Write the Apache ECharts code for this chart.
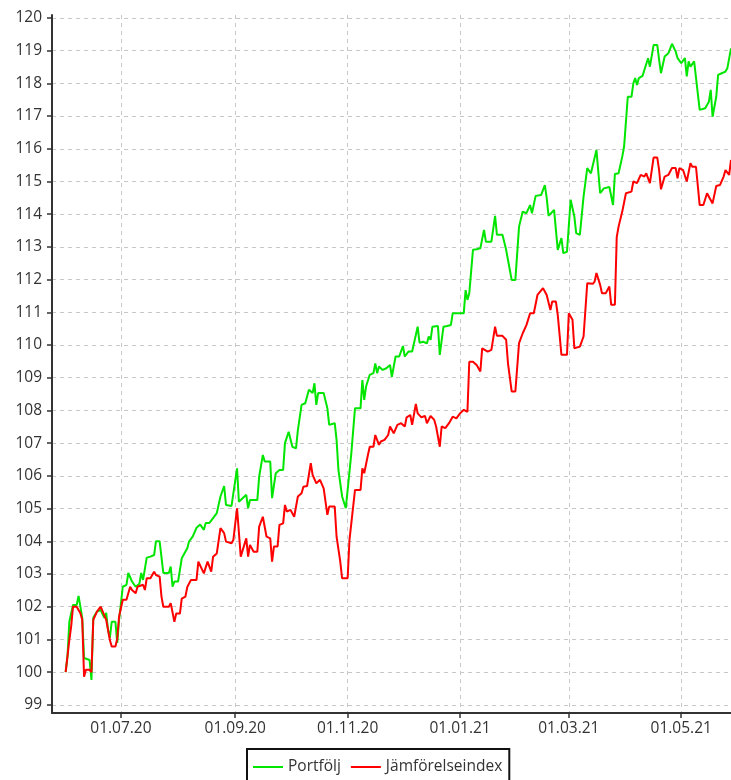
<!DOCTYPE html>
<html><head><meta charset="utf-8">
<script src="https://cdn.jsdelivr.net/npm/echarts@6/dist/echarts.min.js"></script>
<style>html,body{margin:0;padding:0;background:#fff}#c{width:731px;height:780px}</style>
</head><body><div id="c"></div>
<script>
const seriesNames = ['Portfölj', 'Jämförelseindex'];

const portfolioDates = [
'2020-06-01','2020-06-02','2020-06-03','2020-06-04','2020-06-05','2020-06-07','2020-06-08','2020-06-09','2020-06-10','2020-06-11',
'2020-06-12','2020-06-14','2020-06-15','2020-06-16','2020-06-18','2020-06-20','2020-06-21','2020-06-22','2020-06-23','2020-06-24',
'2020-06-25','2020-06-26','2020-06-28','2020-06-29','2020-06-30','2020-07-02','2020-07-04','2020-07-05','2020-07-07','2020-07-09',
'2020-07-11','2020-07-12','2020-07-13','2020-07-15','2020-07-17','2020-07-19','2020-07-20','2020-07-22','2020-07-24','2020-07-27',
'2020-07-28','2020-07-29','2020-07-30','2020-08-01','2020-08-03','2020-08-06','2020-08-07','2020-08-09','2020-08-11','2020-08-13',
'2020-08-15','2020-08-16','2020-08-18','2020-08-20','2020-08-22','2020-08-24','2020-08-26','2020-08-27','2020-08-30','2020-08-31',
'2020-09-02','2020-09-03','2020-09-04','2020-09-07','2020-09-08','2020-09-09','2020-09-13','2020-09-14','2020-09-16','2020-09-17',
'2020-09-20','2020-09-21','2020-09-23','2020-09-25','2020-09-27','2020-09-28','2020-09-30','2020-10-02','2020-10-04','2020-10-05',
'2020-10-07','2020-10-09','2020-10-11','2020-10-13','2020-10-14','2020-10-15','2020-10-16','2020-10-19','2020-10-21','2020-10-22',
'2020-10-23','2020-10-25','2020-10-26','2020-10-27','2020-10-29','2020-10-31','2020-11-01','2020-11-03','2020-11-05','2020-11-08',
'2020-11-09','2020-11-10','2020-11-11','2020-11-13','2020-11-15','2020-11-16','2020-11-17','2020-11-18','2020-11-20','2020-11-22',
'2020-11-24','2020-11-25','2020-11-27','2020-11-29','2020-12-01','2020-12-02','2020-12-04','2020-12-06','2020-12-09','2020-12-10',
'2020-12-12','2020-12-14','2020-12-15','2020-12-16','2020-12-17','2020-12-20','2020-12-21','2020-12-23','2020-12-25','2020-12-27',
'2020-12-28','2020-12-30','2021-01-01','2021-01-03','2021-01-04','2021-01-05','2021-01-06','2021-01-08','2021-01-10','2021-01-12',
'2021-01-14','2021-01-15','2021-01-18','2021-01-20','2021-01-21','2021-01-24','2021-01-26','2021-01-27','2021-01-29','2021-01-31',
'2021-02-02','2021-02-04','2021-02-06','2021-02-08','2021-02-09','2021-02-11','2021-02-14','2021-02-16','2021-02-17','2021-02-18',
'2021-02-21','2021-02-22','2021-02-23','2021-02-25','2021-02-26','2021-02-28','2021-03-02','2021-03-04','2021-03-05','2021-03-07',
'2021-03-09','2021-03-11','2021-03-13','2021-03-14','2021-03-16','2021-03-18','2021-03-20','2021-03-23','2021-03-24','2021-03-25',
'2021-03-26','2021-03-28','2021-03-30','2021-03-31','2021-04-02','2021-04-04','2021-04-05','2021-04-06','2021-04-07','2021-04-08',
'2021-04-10','2021-04-11','2021-04-13','2021-04-14','2021-04-16','2021-04-18','2021-04-19','2021-04-20','2021-04-22','2021-04-24',
'2021-04-26','2021-04-28','2021-04-29','2021-05-01','2021-05-03','2021-05-04','2021-05-05','2021-05-06','2021-05-08','2021-05-09',
'2021-05-11','2021-05-12','2021-05-14','2021-05-16','2021-05-17','2021-05-18','2021-05-20','2021-05-21','2021-05-23','2021-05-25',
'2021-05-26','2021-05-28'
];
const portfolioValues = [
100.0,100.47,101.54,101.54,102.05,102.05,102.33,102.0,101.66,100.43,
100.4,100.37,99.76,101.66,101.85,101.9,101.9,101.66,101.81,101.29,
101.05,101.54,101.54,100.89,101.6,102.61,102.67,103.03,102.77,102.61,
102.7,103.03,102.82,103.5,103.53,103.58,104.0,104.0,103.03,103.03,
103.23,102.61,102.77,102.77,103.48,103.79,104.0,104.15,104.41,104.51,
104.35,104.56,104.56,104.71,104.86,105.37,105.69,105.11,105.08,105.11,
106.23,105.21,105.16,105.42,105.01,105.26,105.26,105.98,106.64,106.44,
106.44,105.32,106.08,106.18,106.18,107.0,107.35,106.89,106.84,107.4,
108.17,108.22,108.63,108.53,108.83,108.17,108.53,108.53,108.07,107.56,
107.61,107.61,107.1,106.18,105.37,105.01,105.01,106.69,108.07,108.07,
108.93,108.32,108.73,109.09,109.14,109.44,109.14,109.34,109.24,109.29,
109.39,109.03,109.65,109.65,109.97,109.65,109.8,109.8,110.56,110.07,
110.1,110.05,110.26,110.16,110.56,110.58,109.7,110.56,110.58,110.61,
110.97,110.97,110.97,110.97,111.68,111.38,111.58,112.91,112.93,112.96,
113.52,113.16,113.16,113.95,113.37,113.37,112.91,112.6,111.99,111.99,
113.62,114.08,114.03,114.28,114.03,114.56,114.59,114.89,114.5,113.95,
114.13,113.52,112.91,113.27,112.81,112.85,114.44,113.93,113.42,113.37,
114.54,115.41,115.25,115.25,115.96,114.64,114.79,114.83,114.89,114.28,
115.23,115.25,115.76,116.07,117.59,117.59,118.0,118.16,117.95,118.16,
118.23,118.21,118.77,118.51,119.17,119.17,118.72,118.31,118.82,118.92,
119.21,118.97,118.77,118.62,118.77,118.21,118.67,118.51,118.67,118.67,
117.19,117.19,117.24,117.44,117.8,116.98,117.59,118.26,118.31,118.36,
118.46,119.07
];

const benchmarkDates = [
'2020-06-01','2020-06-03','2020-06-04','2020-06-05','2020-06-07','2020-06-09','2020-06-10','2020-06-11','2020-06-12','2020-06-14',
'2020-06-15','2020-06-16','2020-06-18','2020-06-20','2020-06-21','2020-06-23','2020-06-25','2020-06-26','2020-06-28','2020-06-29',
'2020-06-30','2020-07-02','2020-07-04','2020-07-06','2020-07-07','2020-07-09','2020-07-10','2020-07-11','2020-07-13','2020-07-14',
'2020-07-15','2020-07-17','2020-07-18','2020-07-19','2020-07-20','2020-07-22','2020-07-23','2020-07-24','2020-07-27','2020-07-28',
'2020-07-30','2020-07-31','2020-08-02','2020-08-03','2020-08-05','2020-08-06','2020-08-08','2020-08-09','2020-08-11','2020-08-12',
'2020-08-15','2020-08-17','2020-08-19','2020-08-20','2020-08-22','2020-08-24','2020-08-26','2020-08-27','2020-08-30','2020-08-31',
'2020-09-02','2020-09-04','2020-09-05','2020-09-07','2020-09-08','2020-09-09','2020-09-11','2020-09-13','2020-09-14','2020-09-16',
'2020-09-18','2020-09-20','2020-09-21','2020-09-22','2020-09-24','2020-09-25','2020-09-27','2020-09-28','2020-09-29','2020-10-01',
'2020-10-03','2020-10-04','2020-10-05','2020-10-07','2020-10-08','2020-10-10','2020-10-12','2020-10-13','2020-10-15','2020-10-17',
'2020-10-19','2020-10-21','2020-10-22','2020-10-25','2020-10-26','2020-10-28','2020-10-29','2020-11-01','2020-11-02','2020-11-05',
'2020-11-08','2020-11-09','2020-11-10','2020-11-12','2020-11-13','2020-11-15','2020-11-16','2020-11-18','2020-11-19','2020-11-21',
'2020-11-23','2020-11-24','2020-11-26','2020-11-28','2020-11-30','2020-12-02','2020-12-03','2020-12-05','2020-12-06','2020-12-08',
'2020-12-09','2020-12-11','2020-12-13','2020-12-14','2020-12-16','2020-12-18','2020-12-19','2020-12-21','2020-12-22','2020-12-24',
'2020-12-26','2020-12-28','2020-12-30','2021-01-01','2021-01-03','2021-01-05','2021-01-06','2021-01-08','2021-01-10','2021-01-12',
'2021-01-13','2021-01-16','2021-01-18','2021-01-20','2021-01-21','2021-01-24','2021-01-26','2021-01-27','2021-01-29','2021-01-31',
'2021-02-02','2021-02-04','2021-02-06','2021-02-08','2021-02-10','2021-02-12','2021-02-13','2021-02-15','2021-02-17','2021-02-19',
'2021-02-20','2021-02-22','2021-02-23','2021-02-25','2021-02-28','2021-03-01','2021-03-03','2021-03-04','2021-03-07','2021-03-09',
'2021-03-10','2021-03-11','2021-03-14','2021-03-15','2021-03-16','2021-03-18','2021-03-19','2021-03-21','2021-03-23','2021-03-24',
'2021-03-26','2021-03-27','2021-03-28','2021-03-29','2021-03-30','2021-04-01','2021-04-02','2021-04-04','2021-04-05','2021-04-07',
'2021-04-09','2021-04-11','2021-04-12','2021-04-14','2021-04-16','2021-04-18','2021-04-19','2021-04-20','2021-04-22','2021-04-24',
'2021-04-26','2021-04-28','2021-04-29','2021-04-30','2021-05-02','2021-05-04','2021-05-06','2021-05-07','2021-05-09','2021-05-11',
'2021-05-13','2021-05-15','2021-05-16','2021-05-18','2021-05-20','2021-05-22','2021-05-24','2021-05-25','2021-05-27','2021-05-28'
];
const benchmarkValues = [
100.0,100.98,101.4,102.0,102.0,101.8,101.6,99.86,100.07,100.07,
100.0,101.6,101.85,102.0,102.0,101.6,100.98,100.78,100.78,101.03,
101.7,102.21,102.21,102.61,102.51,102.41,102.61,102.61,102.67,102.51,
102.87,102.87,102.87,103.07,102.97,102.92,102.31,102.0,102.0,102.11,
101.54,101.79,101.79,102.25,102.31,102.6,102.82,102.87,102.82,103.38,
103.02,103.38,103.07,103.53,103.63,104.4,104.25,103.99,103.94,104.04,
105.01,103.53,103.48,104.09,103.53,103.89,103.68,103.68,104.45,104.75,
104.14,104.09,103.38,103.84,103.84,104.5,104.55,105.11,104.91,104.96,
104.75,104.75,105.37,105.47,105.67,105.69,106.39,106.03,105.77,105.88,
105.62,104.81,105.06,105.06,104.14,103.38,102.87,102.87,104.04,105.57,
105.57,106.23,106.08,106.64,106.89,106.89,107.25,106.95,107.05,107.1,
107.25,107.51,107.3,107.56,107.61,107.51,107.79,107.86,107.56,108.2,
107.91,107.79,107.83,107.61,107.83,107.71,107.51,106.89,107.51,107.46,
107.61,107.81,107.76,107.91,108.02,107.96,109.49,109.49,109.39,109.19,
109.9,109.8,109.85,110.56,110.28,110.28,110.16,109.44,108.58,108.58,
110.06,110.36,110.61,110.97,110.97,111.53,111.53,111.74,111.53,111.07,
111.33,111.33,110.92,109.7,109.7,110.97,110.77,109.9,109.95,110.26,
111.07,111.89,111.87,111.94,112.2,111.84,111.58,111.58,111.79,111.23,
111.23,113.3,113.62,113.67,114.08,114.64,114.69,114.69,115.0,114.95,
115.2,115.15,115.25,114.95,115.73,115.73,115.35,114.76,115.15,115.2,
115.41,115.41,115.1,115.41,115.35,115.0,115.56,115.45,115.45,114.28,
114.28,114.64,114.64,114.33,114.86,114.89,115.15,115.35,115.2,115.66
];

const xTickDates = ['2020-07-01','2020-09-01','2020-11-01','2021-01-01','2021-03-01','2021-05-01'];
const yTicks = [99,100,101,102,103,104,105,106,107,108,109,110,111,112,113,114,115,116,117,118,119,120];

const DAY = 86400000;
const ORIGIN = Date.UTC(2020, 6, 1);
function toDay(s) { return Math.round((Date.parse(s) - ORIGIN) / DAY); }
function pad(n) { return (n < 10 ? '0' : '') + n; }
function fmtDay(d) {
  const dt = new Date(ORIGIN + Math.round(d) * DAY);
  return pad(dt.getUTCDate()) + '.' + pad(dt.getUTCMonth() + 1) + '.' + String(dt.getUTCFullYear()).slice(2);
}
const xTickVals = xTickDates.map(toDay);

const FONT = 'Open Sans';
const FS = 15.5;
const axisColor = '#333';
const gridLine = { show: true, lineStyle: { color: '#c8c8c8', width: 1, type: [4, 4] } };
// thin horizontal bar centred in a 30x14 box (corner specks fix the box size)
const lineIcon = 'path://M0,0L0.01,0L0,0.01Z M0,6L30,6L30,8L0,8Z M30,14L29.99,14L30,13.99Z';

const chart = echarts.init(document.getElementById('c'), null, { renderer: 'canvas' });
chart.setOption({
  animation: false,
  backgroundColor: '#fff',
  grid: { left: 52, right: 0, top: 15, bottom: 67, containLabel: false },
  xAxis: {
    type: 'value', min: -37.4, max: 331,
    axisLine: { show: true, onZero: false, lineStyle: { color: axisColor, width: 2 } },
    axisTick: { show: true, customValues: xTickVals, length: 5, lineStyle: { color: axisColor, width: 1.5 } },
    axisLabel: { customValues: xTickVals, formatter: fmtDay, margin: 8, fontSize: FS, color: axisColor, fontFamily: FONT },
    splitLine: gridLine
  },
  yAxis: {
    type: 'value', min: 98.75, max: 120.09,
    axisLine: { show: true, onZero: false, lineStyle: { color: axisColor, width: 2 } },
    axisTick: { show: true, customValues: yTicks, length: 5, lineStyle: { color: axisColor, width: 1.5 } },
    axisLabel: { customValues: yTicks, margin: 10, fontSize: FS, color: axisColor, fontFamily: FONT },
    splitLine: gridLine
  },
  legend: {
    data: seriesNames,
    icon: lineIcon,
    left: 247, top: 749,
    orient: 'horizontal',
    padding: [10, 7, 14, 6],
    itemWidth: 30, itemHeight: 14, itemGap: 10,
    borderColor: '#111', borderWidth: 2, borderRadius: 0,
    backgroundColor: '#fff',
    textStyle: { fontSize: FS, color: axisColor, fontFamily: FONT }
  },
  series: [
    {
      name: seriesNames[0], type: 'line', symbol: 'none', clip: true,
      data: portfolioDates.map((d, i) => [toDay(d), portfolioValues[i]]),
      lineStyle: { color: '#00e600', width: 2 }, itemStyle: { color: '#00e600' }
    },
    {
      name: seriesNames[1], type: 'line', symbol: 'none', clip: true,
      data: benchmarkDates.map((d, i) => [toDay(d), benchmarkValues[i]]),
      lineStyle: { color: '#ff0000', width: 2 }, itemStyle: { color: '#ff0000' }
    }
  ]
});
</script>
</body></html>
